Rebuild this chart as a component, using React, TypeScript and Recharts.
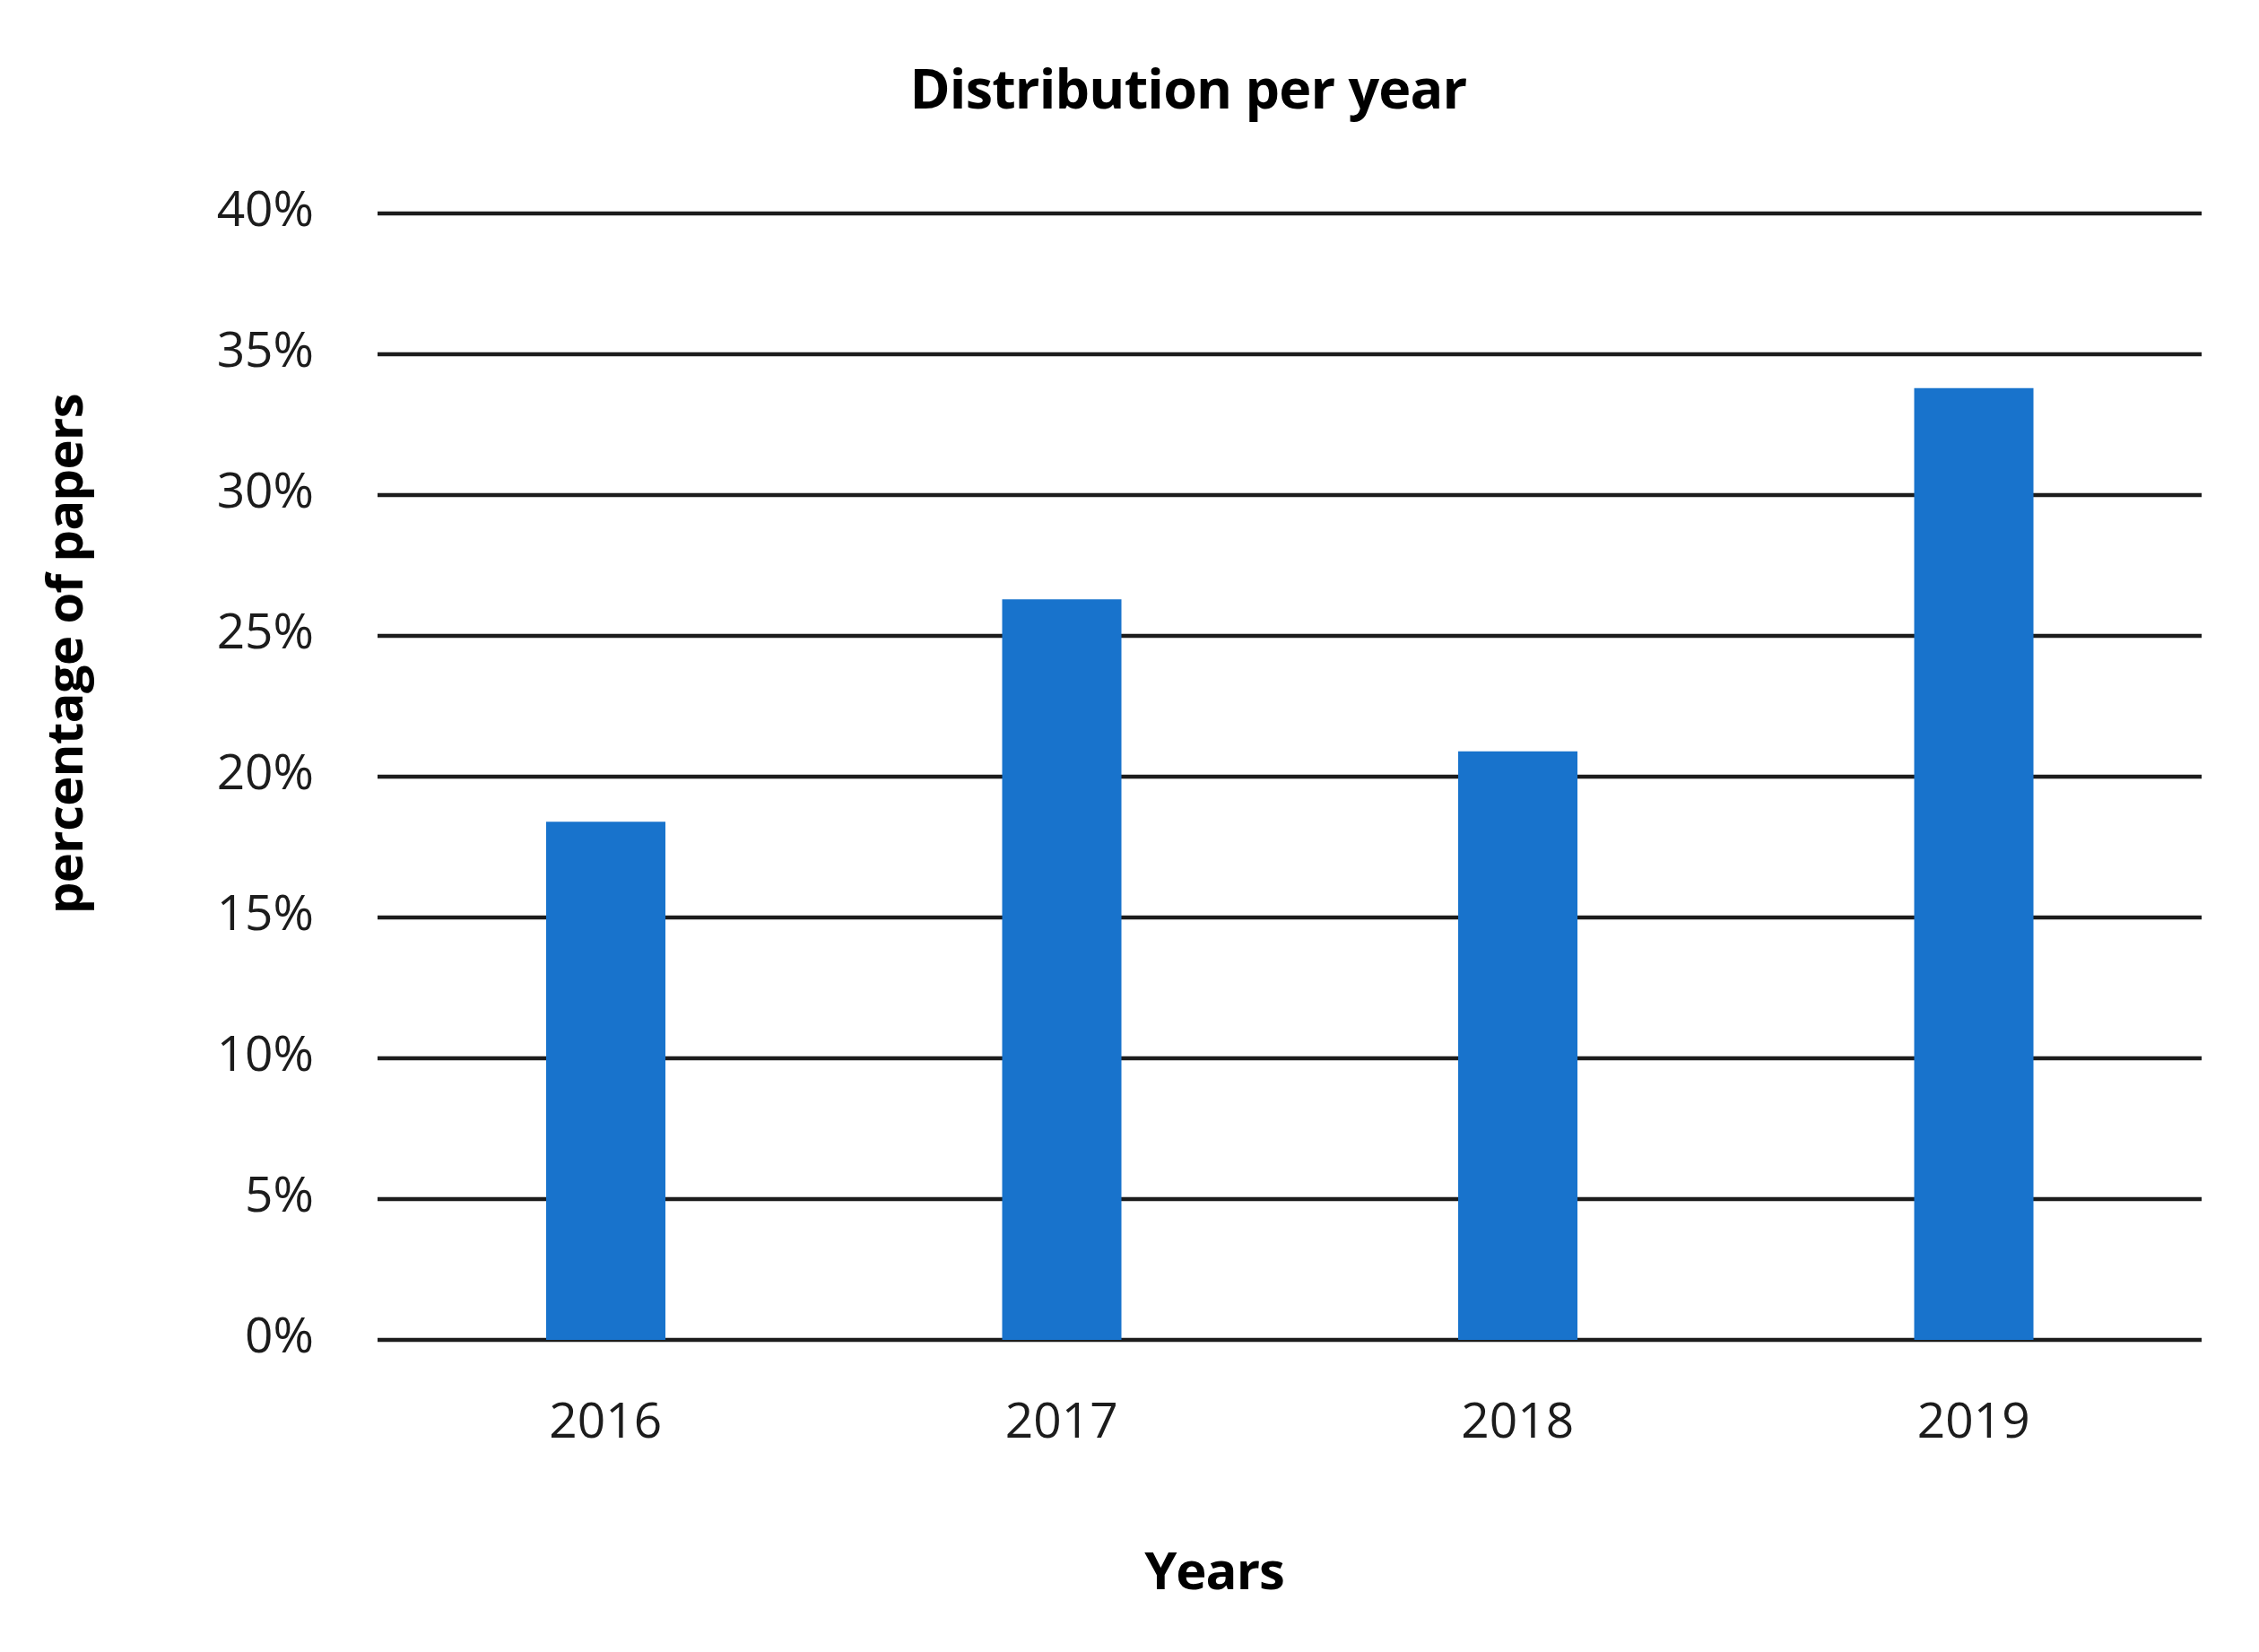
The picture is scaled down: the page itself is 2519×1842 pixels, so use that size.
import { BarChart, Bar, XAxis, YAxis, CartesianGrid } from "recharts";

const years = ["2016", "2017", "2018", "2019"];
const shares = [18.4, 26.3, 20.9, 33.8];
const yTicks = [0, 5, 10, 15, 20, 25, 30, 35, 40];

const data = years.map((year, i) => ({ year, share: shares[i] }));

const FONT = "'Open Sans', sans-serif";
const BLUE = "#1873cc";
const INK = "#1c1c1c";

export default function App() {
  return (
    <div
      style={{
        position: "absolute",
        left: 0,
        top: 0,
        width: 2519,
        height: 1842,
        background: "#fff",
        fontFamily: FONT,
      }}
    >
      {/* title */}
      <div
        style={{
          position: "absolute",
          left: 0,
          width: 2650,
          top: 56,
          textAlign: "center",
          fontSize: 61,
          fontWeight: 700,
          letterSpacing: -0.8,
          color: "#000",
        }}
      >
        Distribution per year
      </div>

      <BarChart
        width={2519}
        height={1842}
        data={data}
        margin={{ top: 238, right: 64, bottom: 248, left: 0 }}
      >
        <CartesianGrid vertical={false} stroke={INK} strokeWidth={4.5} />
        <XAxis
          dataKey="year"
          axisLine={false}
          tickLine={false}
          tickMargin={64}
          height={100}
          tick={{ fontSize: 55, fill: INK, fontFamily: FONT }}
        />
        <YAxis
          domain={[0, 40]}
          ticks={yTicks}
          interval={0}
          width={421}
          axisLine={false}
          tickLine={false}
          tickMargin={65}
          tickFormatter={(v: number) => `${v}%`}
          tick={{ fontSize: 55, fill: INK, fontFamily: FONT, dy: -6 }}
        />
        <Bar dataKey="share" fill={BLUE} barSize={133} isAnimationActive={false} />
      </BarChart>

      {/* axis titles */}
      <div
        style={{
          position: "absolute",
          left: 1354 - 300,
          width: 600,
          top: 1710,
          textAlign: "center",
          fontSize: 58,
          fontWeight: 700,
          letterSpacing: -1,
          color: "#000",
        }}
      >
        Years
      </div>
      <div
        style={{
          position: "absolute",
          left: 70 - 400,
          top: 729 - 40,
          width: 800,
          height: 80,
          lineHeight: "80px",
          textAlign: "center",
          transform: "rotate(-90deg)",
          fontSize: 56,
          fontWeight: 700,
          letterSpacing: -0.6,
          color: "#000",
        }}
      >
        percentage of papers
      </div>
    </div>
  );
}
